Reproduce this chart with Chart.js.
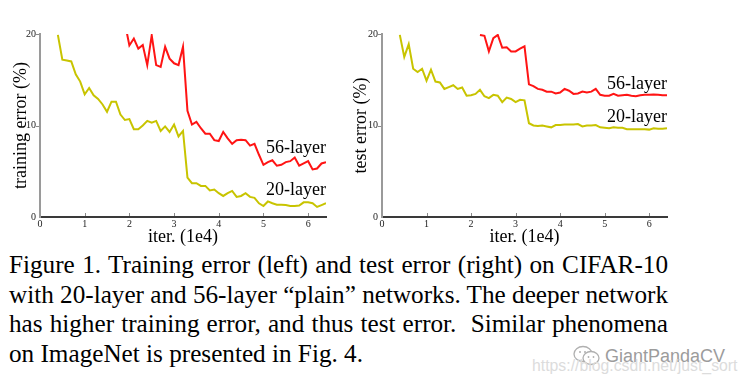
<!DOCTYPE html>
<html>
<head>
<meta charset="utf-8">
<script src="https://cdn.jsdelivr.net/npm/chart.js@4/dist/chart.umd.min.js"></script>
<style>
  html, body { margin: 0; padding: 0; background: #fff; }
  #page { position: relative; width: 747px; height: 388px; overflow: hidden; background: #fff; }
  canvas { position: absolute; }
  #cap { position: absolute; left: 9px; top: 250px; width: 700px; font-family: 'Liberation Serif', 'Times New Roman', serif; font-size: 25.2px; line-height: 29.7px; color: #000; }
  #cap div { white-space: nowrap; height: 29.7px; }
  #cap span { display: inline-block; white-space: nowrap; }
  #wm1 { position: absolute; left: 605px; top: 346px; font-family: 'Liberation Sans', Arial, sans-serif; font-size: 18px; color: #9c9c9c; text-shadow: 0 0 2px #fff; }
  #wm2 { position: absolute; left: 532px; top: 357px; font-family: 'Liberation Sans', Arial, sans-serif; font-size: 15.8px; color: #dcdcdc; }
  #icon { position: absolute; left: 572px; top: 345px; }
</style>
</head>
<body>
<div id="page">
  <canvas id="c1" width="345" height="230" style="left:0px;top:20px;"></canvas>
  <canvas id="c2" width="345" height="230" style="left:340px;top:20px;"></canvas>
  <div id="cap">
    <div><span class="j">Figure 1. Training error (left) and test error (right) on CIFAR-10</span></div>
    <div><span class="j">with 20-layer and 56-layer “plain” networks. The deeper network</span></div>
    <div><span class="j">has higher training error, and thus test error.&nbsp; Similar phenomena</span></div>
    <div><span>on ImageNet is presented in Fig. 4.</span></div>
  </div>
  <svg id="icon" width="30" height="22" viewBox="0 0 30 22">
    <ellipse cx="11" cy="9" rx="9" ry="7.5" fill="none" stroke="#b0b0b0" stroke-width="1.3"/>
    <ellipse cx="19" cy="13" rx="8" ry="6.5" fill="#fff" stroke="#b0b0b0" stroke-width="1.3"/>
    <circle cx="8" cy="7" r="1" fill="#b0b0b0"/><circle cx="13" cy="7" r="1" fill="#b0b0b0"/>
    <circle cx="16.5" cy="12" r="0.9" fill="#b0b0b0"/><circle cx="21.5" cy="12" r="0.9" fill="#b0b0b0"/>
  </svg>
  <div id="wm1">GiantPandaCV</div>
  <div id="wm2">https://blog.csdn.net/just_sort</div>
</div>
<script>
// justify caption lines to the full text width by adjusting word spacing
(function () {
  const target = 659;
  document.querySelectorAll('#cap span.j').forEach(sp => {
    const w = sp.getBoundingClientRect().width;
    const spaces = (sp.textContent.match(/[ \u00a0]/g) || []).length;
    if (spaces > 0) sp.style.wordSpacing = ((target - w) / spaces) + 'px';
  });
})();

// iterations (1e4)
const iters = [0.4,0.5,0.6,0.7,0.8,0.9,1.0,1.1,1.2,1.3,1.4,1.5,1.6,1.7,1.8,1.9,2.0,2.1,2.2,2.3,2.4,2.5,2.6,2.7,2.8,2.9,3.0,3.1,3.2,3.3,3.4,3.5,3.6,3.7,3.8,3.9,4.0,4.1,4.2,4.3,4.4,4.5,4.6,4.7,4.8,4.9,5.0,5.1,5.2,5.3,5.4,5.5,5.6,5.7,5.8,5.9,6.0,6.1,6.2,6.3,6.4];

// training error (%)
const train20 = [19.9,17.2,17.1,17.0,15.6,14.8,13.4,14.1,13.3,12.9,12.3,11.5,12.6,12.6,11.2,10.6,10.7,9.6,9.6,10.0,10.5,10.3,10.5,9.4,9.9,9.3,10.1,8.8,9.4,4.3,3.7,3.7,3.4,3.4,2.9,3.0,2.6,2.3,2.6,2.85,2.2,2.3,2.6,2.2,2.1,1.5,1.2,1.7,1.5,1.35,1.35,1.3,1.2,1.2,1.25,1.6,1.6,1.5,1.1,1.3,1.5];
const train56 = [null,null,null,null,null,null,null,null,null,null,null,null,null,null,null,21.2,18.75,19.5,18.4,18.8,16.6,19.85,16.6,16.4,18.6,17.3,16.8,16.6,18.6,11.6,10.1,10.4,9.7,9.1,9.1,8.4,8.3,9.3,8.6,8.0,8.4,8.45,8.4,7.8,8.0,6.8,5.7,6.0,6.2,5.6,5.7,6.0,6.1,6.5,5.6,5.85,6.1,5.2,5.3,5.85,6.0];

// test error (%)
const test20 = [19.9,17.5,18.9,16.2,15.85,16.2,14.9,16.1,14.8,14.7,14.0,14.2,14.4,14.0,14.15,13.25,13.3,13.45,13.9,13.2,13.0,13.35,13.25,12.55,13.05,12.9,12.55,12.8,12.75,10.25,10.0,9.95,10.0,9.9,9.8,10.05,10.05,10.1,10.1,10.1,10.15,9.9,10.0,10.0,10.05,9.8,9.75,9.7,9.8,9.75,9.75,9.6,9.6,9.6,9.6,9.6,9.55,9.7,9.65,9.65,9.7];
const test56 = [null,null,null,null,null,null,null,null,null,null,null,null,null,null,null,null,null,null,19.9,19.8,18.1,19.55,19.9,18.5,18.55,18.1,18.1,18.4,18.65,14.5,14.3,14.0,13.9,13.7,13.7,13.5,13.6,14.0,13.8,13.45,13.5,13.7,13.6,13.7,14.0,13.35,13.25,13.25,13.45,13.25,13.3,13.35,13.25,13.2,13.3,13.35,13.35,13.4,13.35,13.3,13.3];

const xTicks = [0,1,2,3,4,5,6];
const yTicks = [0,10,20];
const seriesNames = ['56-layer','20-layer'];

const RED = '#ff1414';
const YEL = '#c8c400';
const SERIF = "'Liberation Serif', 'Times New Roman', serif";

function pts(vals) { return iters.map((x, i) => ({ x: x, y: vals[i] })); }

function makeChart(id, yTitle, s56, s20, lab56, lab20, xMaxPad) {
  const labelPlugin = {
    id: 'marks_' + id,
    afterDraw(chart) {
      const ctx = chart.ctx, xs = chart.scales.x, ys = chart.scales.y;
      ctx.save();
      // tick marks
      ctx.strokeStyle = '#8a8a8a';
      ctx.lineWidth = 1;
      xTicks.forEach(v => {
        if (v === 0) return;
        const px = Math.round(xs.getPixelForValue(v)) + 0.5;
        ctx.beginPath(); ctx.moveTo(px, ys.bottom - 1); ctx.lineTo(px, ys.bottom - 4); ctx.stroke();
      });
      yTicks.forEach(v => {
        if (v === 0) return;
        const py = Math.round(ys.getPixelForValue(v)) + 0.5;
        ctx.beginPath(); ctx.moveTo(xs.left - 4, py); ctx.lineTo(xs.left - 1, py); ctx.stroke();
      });
      // series labels
      ctx.fillStyle = '#000';
      ctx.font = '18px ' + SERIF;
      ctx.textAlign = 'right';
      ctx.textBaseline = 'alphabetic';
      ctx.fillText(seriesNames[0], xs.getPixelForValue(6.4), ys.getPixelForValue(lab56));
      ctx.fillText(seriesNames[1], xs.getPixelForValue(6.4), ys.getPixelForValue(lab20));
      ctx.restore();
    }
  };
  return new Chart(document.getElementById(id), {
    type: 'line',
    data: {
      datasets: [
        { data: pts(s20), borderColor: YEL, borderWidth: 2, pointRadius: 0, tension: 0, spanGaps: false, fill: false },
        { data: pts(s56), borderColor: RED, borderWidth: 2, pointRadius: 0, tension: 0, spanGaps: false, fill: false }
      ]
    },
    options: {
      responsive: false,
      animation: false,
      devicePixelRatio: 1,
      plugins: { legend: { display: false }, tooltip: { enabled: false } },
      layout: { padding: { top: 14, right: xMaxPad, left: 0, bottom: 0 } },
      scales: {
        x: {
          type: 'linear', min: 0, max: 6.4,
          afterBuildTicks: s => { s.ticks = xTicks.map(v => ({ value: v })); },
          ticks: { font: { family: SERIF, size: 10 }, color: '#222', padding: 1, maxRotation: 0, autoSkip: false },
          grid: { display: false, drawTicks: false },
          border: { color: '#3a3a3a', width: 2 },
          title: { display: true, text: 'iter. (1e4)', color: '#000', font: { family: SERIF, size: 18, lineHeight: 1 }, padding: { top: 0, bottom: 4 } },
          afterFit: s => { s.height = 33; }
        },
        y: {
          type: 'linear', min: 0, max: 20,
          afterBuildTicks: s => { s.ticks = yTicks.map(v => ({ value: v })); },
          ticks: { font: { family: SERIF, size: 10 }, color: '#222', padding: 4 },
          grid: { display: false, drawTicks: false },
          border: { color: '#9a9a9a', width: 2 },
          title: { display: true, text: yTitle, color: '#000', font: { family: SERIF, size: 18, lineHeight: 1 }, padding: { top: 12, bottom: 0 } },
          afterFit: s => { s.width = (id === 'c1') ? 40 : 42; }
        }
      }
    },
    plugins: [labelPlugin]
  });
}

makeChart('c1', 'training error (%)', train56, train20, 7.0, 2.4, 19);
makeChart('c2', 'test error (%)', test56, test20, 14.0, 10.4, 18);
</script>
</body>
</html>
